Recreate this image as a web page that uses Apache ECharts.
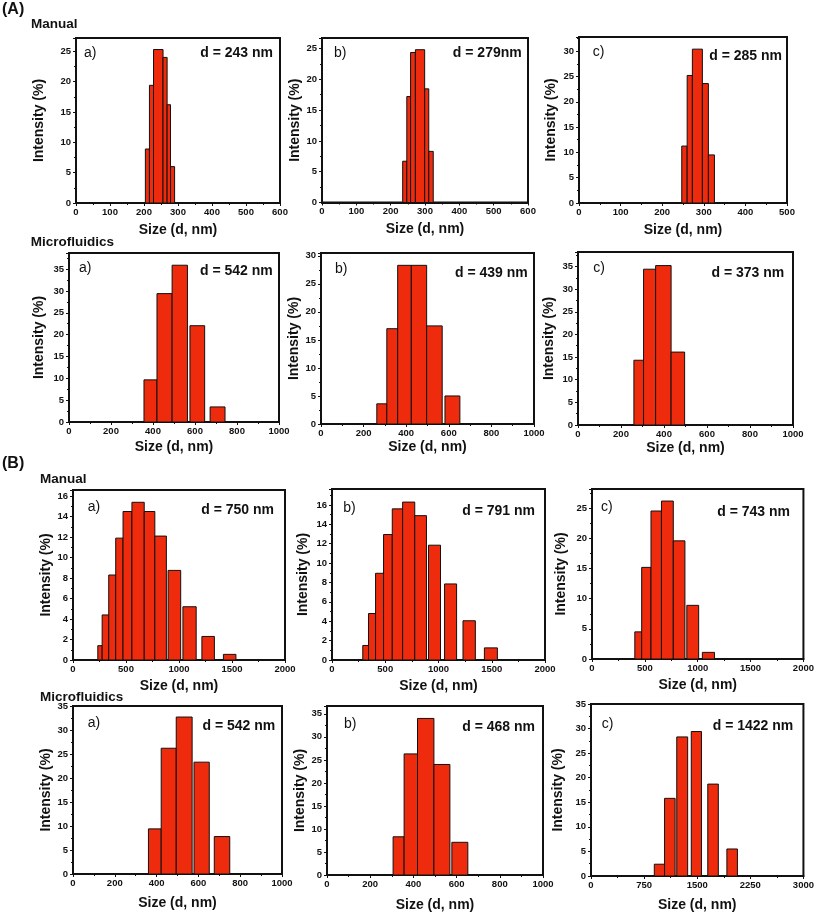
<!DOCTYPE html>
<html><head><meta charset="utf-8">
<script src="https://cdn.jsdelivr.net/npm/echarts@6/dist/echarts.min.js"></script>
<style>html,body{margin:0;padding:0;background:#fff}#c{width:817px;height:914px}</style>
</head><body><div id="c"></div>
<script>
// ---- DATA: histogram bins [binStart (nm), binEnd (nm), intensity (%)] ----
const binsA_manual_a = [[204,216,8.9],[216,228,19.4],[228,256,25.3],[256,268,24.0],[268,278,16.2],[278,290,6.0]];
const binsA_manual_b = [[235,247,6.7],[247,258,17.2],[258,272,24.35],[272,299,24.8],[299,311,18.45],[311,324,8.3]];
const binsA_manual_c = [[247,260,11.25],[260,272.5,25.2],[272.5,296.6,30.4],[296.6,311,23.6],[311,325.6,9.5]];
const binsA_micro_a  = [[357,419,9.65],[419,491,29.4],[491,564,35.9],[576,646,22.05],[672,743,3.45]];
const binsA_micro_b  = [[262,309,3.6],[309,360,17.0],[360,424,28.3],[424,496,28.3],[496,569,17.5],[582,652,5.0]];
const binsA_micro_c  = [[260,305,14.3],[305,361,34.4],[361,433,35.2],[433,496,16.1]];
const binsB_manual_a = [[234,275,1.4],[275,337,4.4],[337,403,8.3],[403,472,11.9],[472,556,14.5],[556,672,15.4],[672,772,14.5],[772,881,12.1],[897,1016,8.75],[1037,1162,5.2],[1216,1334,2.3],[1419,1537,0.55]];
const binsB_manual_b = [[289,343,1.5],[343,409,4.8],[409,484,8.95],[484,566,12.95],[566,663,15.6],[663,777,16.3],[777,887,14.9],[906,1019,11.85],[1057,1170,7.85],[1230,1346,4.05],[1431,1553,1.25]];
const binsB_manual_c = [[405,470,4.5],[470,558,15.2],[558,657,24.55],[657,769,26.2],[769,879,19.6],[897,1009,8.9],[1044,1159,1.1]];
const binsB_micro_a  = [[361,422,9.4],[422,494,26.2],[494,570,32.7],[579,652,23.3],[676,750,7.8]];
const binsB_micro_b  = [[306,357,8.3],[357,419,26.3],[419,495,34.0],[495,569,24.0],[578,652,7.1]];
const binsB_micro_c  = [[894,1039,2.4],[1039,1188,15.8],[1211,1365,28.3],[1416,1560,29.4],[1649,1798,18.7],[1919,2068,5.5]];

const panelLetters = ['a)','b)','c)','a)','b)','c)','a)','b)','c)','a)','b)','c)'];
const dLabels = ['d = 243 nm','d = 279nm','d = 285 nm','d = 542 nm','d = 439 nm','d = 373 nm',
                 'd = 750 nm','d = 791 nm','d = 743 nm','d = 542 nm','d = 468 nm','d = 1422 nm'];
const xMax  = [600,600,500,1000,1000,1000,2000,2000,2000,1000,1000,3000];
const xStep = [100,100,100,200,200,200,500,500,500,200,200,750];
const yMax  = [27.2,26.7,32.8,38.7,30.5,38.2,16.6,17.65,28.2,35,36.7,35];
const yStep = [5,5,5,5,5,5,2,2,5,5,5,5];
const xTitle = 'Size (d, nm)';
const yTitle = 'Intensity (%)';
const sectionTitles = ['(A)','(B)'];
const groupTitles = ['Manual','Microfluidics','Manual','Microfluidics'];

const allBins = [binsA_manual_a,binsA_manual_b,binsA_manual_c,binsA_micro_a,binsA_micro_b,binsA_micro_c,
                 binsB_manual_a,binsB_manual_b,binsB_manual_c,binsB_micro_a,binsB_micro_b,binsB_micro_c];

// ---- LAYOUT (pixels) ----
const grids = [ // left, top, width, height
  [76,38,204,165],[322,38,206,164.5],[579,37,208,166],
  [69,253,210,169],[321,253,213,171],[578,252,215,173],
  [73,490,212,170],[332,489,213,171],[592,489,214,170],
  [73,706,209,168],[327,706,216,169],[591,704,215,172]
];
const yNameGap = [37,26,28,30,26,29,24,29,31,24,24,33];
const xNameGap = [27,27,27,25,23,23,26,26,26,29,30,29];
const letterPos = [[84,52.7],[334,52.7],[592.7,52.3],[79,268.3],[335,269],[593.3,268.3],
                   [87.7,506.7],[343.3,508.3],[601,506.7],[87.7,722.7],[344,724],[601.7,724]];
const dPos = [[273,52.7],[521.7,52.7],[782,55.7],[272.7,270.7],[527.7,272.7],[784.3,272.7],
              [274,510],[535,510.7],[790,511.7],[275.3,726],[535,726.7],[793.3,726]];
const headerPos = [[2,10],[2,464]];
const groupPos = [[31,24],[30.7,242],[40,479],[40,697]];

const FONT = "'Liberation Sans', Arial, Helvetica, sans-serif";
const BAR = '#ee2b0d';

const chart = echarts.init(document.getElementById('c'), null, {renderer:'canvas'});

const grid = [], xAxis = [], yAxis = [], series = [], graphic = [];
for (let i = 0; i < 12; i++) {
  const g = grids[i];
  grid.push({left:g[0], top:g[1], width:g[2], height:g[3], show:true, borderColor:'#111', borderWidth:2, containLabel:false});
  const xs = xStep[i], ys = yStep[i];
  xAxis.push({
    type:'value', gridIndex:i, min:0, max:xMax[i], interval:xs,
    name:xTitle, nameLocation:'middle', nameGap:xNameGap[i],
    nameTextStyle:{fontFamily:FONT, fontWeight:'bold', fontSize:14, color:'#111', verticalAlign:'middle', align:'center'},
    axisLine:{show:true, onZero:false, lineStyle:{color:'#111', width:2}},
    axisTick:{show:true, inside:false, length:3, lineStyle:{color:'#111', width:1}},
    minorTick:{show:true, splitNumber:2, length:2, lineStyle:{color:'#111', width:1}},
    splitLine:{show:false}, minorSplitLine:{show:false},
    axisLabel:{show:true, margin:4, fontFamily:FONT, fontWeight:'bold', fontSize:9.5, color:'#111',
      showMinLabel:true, showMaxLabel:true, hideOverlap:false,
      formatter:(v)=> (Math.abs(v/xs - Math.round(v/xs))<1e-6 ? String(v) : '')}
  });
  yAxis.push({
    type:'value', gridIndex:i, min:0, max:yMax[i], interval:ys,
    name:yTitle, nameLocation:'middle', nameGap:yNameGap[i], nameRotate:90,
    nameTextStyle:{fontFamily:FONT, fontWeight:'bold', fontSize:14, color:'#111', verticalAlign:'middle', align:'center'},
    axisLine:{show:true, onZero:false, lineStyle:{color:'#111', width:2}},
    axisTick:{show:true, inside:false, length:3, lineStyle:{color:'#111', width:1}},
    minorTick:{show:true, splitNumber:2, length:2, lineStyle:{color:'#111', width:1}},
    splitLine:{show:false}, minorSplitLine:{show:false},
    axisLabel:{show:true, margin:5, fontFamily:FONT, fontWeight:'bold', fontSize:9.5, color:'#111',
      showMinLabel:true, showMaxLabel:true, hideOverlap:false,
      formatter:(v)=> (Math.abs(v/ys - Math.round(v/ys))<1e-6 ? String(v) : '')}
  });
  series.push({
    type:'custom', xAxisIndex:i, yAxisIndex:i, data:allBins[i],
    encode:{x:[0,1], y:2}, clip:false, silent:true,
    renderItem:function(params, api){
      const p0 = api.coord([api.value(0), 0]);
      const p1 = api.coord([api.value(1), api.value(2)]);
      return {type:'rect', shape:{x:p0[0], y:p1[1], width:p1[0]-p0[0], height:p0[1]-p1[1]},
              style:{fill:BAR, stroke:'#111', lineWidth:1}};
    }
  });
  graphic.push({type:'text', x:letterPos[i][0], y:letterPos[i][1], silent:true,
    style:{text:panelLetters[i], font:'normal 14px '+FONT, fill:'#111', align:'left', verticalAlign:'middle'}});
  graphic.push({type:'text', x:dPos[i][0], y:dPos[i][1], silent:true,
    style:{text:dLabels[i], font:'bold 14px '+FONT, fill:'#111', align:'right', verticalAlign:'middle'}});
}
for (let k = 0; k < 2; k++) {
  graphic.push({type:'text', x:headerPos[k][0], y:headerPos[k][1], silent:true,
    style:{text:sectionTitles[k], font:'bold 16px '+FONT, fill:'#111', align:'left', verticalAlign:'middle'}});
}
for (let k = 0; k < 4; k++) {
  graphic.push({type:'text', x:groupPos[k][0], y:groupPos[k][1], silent:true,
    style:{text:groupTitles[k], font:'bold 13.5px '+FONT, fill:'#111', align:'left', verticalAlign:'middle'}});
}

chart.setOption({
  animation:false,
  backgroundColor:'#fff',
  grid, xAxis, yAxis, series, graphic
});
</script>
</body></html>
